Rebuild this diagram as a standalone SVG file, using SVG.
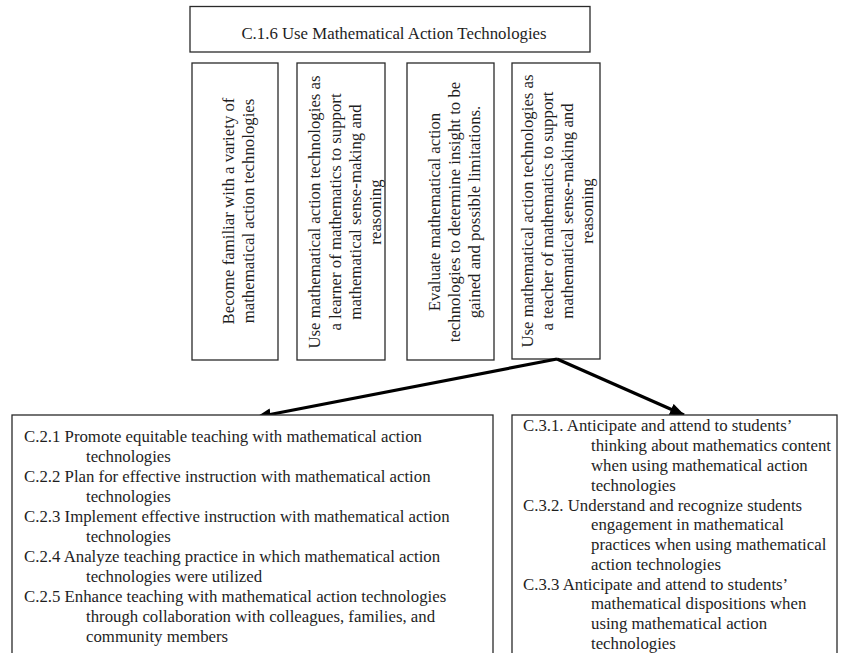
<svg xmlns="http://www.w3.org/2000/svg" width="846" height="653" viewBox="0 0 846 653">
<defs>
<style>
.box{fill:#fff;stroke:#2a2a2a;stroke-width:1.3}
.t{font-family:"Liberation Serif","Times New Roman",serif;font-size:16.8px;fill:#1e1e1e}
.c{text-anchor:middle}
.conn{stroke:#000;stroke-width:3.2;fill:none}
</style>
<marker id="ah" viewBox="0 0 15 12" refX="14" refY="6" markerWidth="15" markerHeight="12" markerUnits="userSpaceOnUse" orient="auto">
<path d="M0,0 L15,6 L0,12 z" fill="#000"/>
</marker>
</defs>
<rect width="846" height="653" fill="#fff"/>

<g id="title">
<rect class="box" x="190" y="6.5" width="400" height="45.5"/>
<text class="t c" x="394" y="38.5">C.1.6 Use Mathematical Action Technologies</text>
</g>

<g id="v1">
<rect class="box" x="192" y="63" width="86" height="297"/>
<text class="t c" transform="translate(234,211) rotate(-90)">Become familiar with a variety of</text>
<text class="t c" transform="translate(254,211) rotate(-90)">mathematical action technologies</text>
</g>

<g id="v2">
<rect class="box" x="297" y="63" width="88" height="297"/>
<text class="t c" transform="translate(320,212) rotate(-90)">Use mathematical action technologies as</text>
<text class="t c" transform="translate(340.5,212) rotate(-90)">a learner of mathematics to support</text>
<text class="t c" transform="translate(361,212) rotate(-90)">mathematical sense-making and</text>
<text class="t c" transform="translate(381,212) rotate(-90)">reasoning</text>
</g>

<g id="v3">
<rect class="box" x="407" y="63" width="87" height="297"/>
<text class="t c" transform="translate(439.5,212) rotate(-90)">Evaluate mathematical action</text>
<text class="t c" transform="translate(459.5,212) rotate(-90)">technologies to determine insight to be</text>
<text class="t c" transform="translate(479.5,212) rotate(-90)">gained and possible limitations.</text>
</g>

<g id="v4">
<rect class="box" x="512" y="63" width="88" height="296"/>
<text class="t c" transform="translate(533,211) rotate(-90)">Use mathematical action technologies as</text>
<text class="t c" transform="translate(553,211) rotate(-90)">a teacher of mathematics to support</text>
<text class="t c" transform="translate(573,211) rotate(-90)">mathematical sense-making and</text>
<text class="t c" transform="translate(593,211) rotate(-90)">reasoning</text>
</g>

<g id="connectors">
<line class="conn" x1="557" y1="359" x2="257" y2="417" marker-end="url(#ah)"/>
<line class="conn" x1="557" y1="359" x2="684" y2="415" marker-end="url(#ah)"/>
</g>

<g id="c2">
<rect class="box" x="12" y="415" width="481" height="260"/>
<text class="t" x="24" y="442">C.2.1 Promote equitable teaching with mathematical action</text>
<text class="t" x="86" y="462">technologies</text>
<text class="t" x="24" y="482">C.2.2 Plan for effective instruction with mathematical action</text>
<text class="t" x="86" y="502">technologies</text>
<text class="t" x="24" y="522">C.2.3 Implement effective instruction with mathematical action</text>
<text class="t" x="86" y="542">technologies</text>
<text class="t" x="24" y="562">C.2.4 Analyze teaching practice in which mathematical action</text>
<text class="t" x="86" y="582">technologies were utilized</text>
<text class="t" x="24" y="602">C.2.5 Enhance teaching with mathematical action technologies</text>
<text class="t" x="86" y="622">through collaboration with colleagues, families, and</text>
<text class="t" x="86" y="642">community members</text>
</g>

<g id="c3">
<rect class="box" x="512" y="415" width="325" height="260"/>
<text class="t" x="523" y="431">C.3.1. Anticipate and attend to students’</text>
<text class="t" x="591" y="451">thinking about mathematics content</text>
<text class="t" x="591" y="471">when using mathematical action</text>
<text class="t" x="591" y="490.5">technologies</text>
<text class="t" x="523" y="510.5">C.3.2. Understand and recognize students</text>
<text class="t" x="591" y="530">engagement in mathematical</text>
<text class="t" x="591" y="550">practices when using mathematical</text>
<text class="t" x="591" y="569.5">action technologies</text>
<text class="t" x="523" y="589.5">C.3.3 Anticipate and attend to students’</text>
<text class="t" x="591" y="609">mathematical dispositions when</text>
<text class="t" x="591" y="629">using mathematical action</text>
<text class="t" x="591" y="648.5">technologies</text>
</g>
</svg>
